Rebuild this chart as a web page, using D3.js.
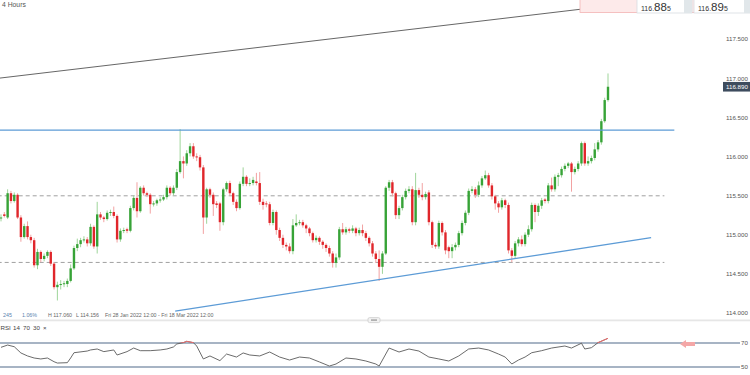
<!DOCTYPE html>
<html><head><meta charset="utf-8">
<script src="https://cdn.jsdelivr.net/npm/d3@7"></script>
<style>
body{margin:0;background:#fff;overflow:hidden}
svg{display:block;font-family:"Liberation Sans",Arial,sans-serif}
</style>
</head><body>
<svg id="c" width="750" height="375"></svg>
<script>
// ---- DATA (4-hour candles: [open, high, low, close]) ----
const candles = [
[115.21,115.26,115.17,115.22],[115.26,115.29,115.22,115.24],[115.22,115.58,115.20,115.53],[115.53,115.56,115.40,115.43],
[115.43,115.54,115.41,115.51],[115.51,115.53,115.20,115.22],[115.22,115.25,114.91,114.97],[114.97,115.14,114.95,115.11],
[115.11,115.17,114.94,114.97],[114.97,115.00,114.89,114.93],[114.93,114.96,114.58,114.61],[114.61,114.82,114.56,114.78],
[114.78,114.80,114.65,114.69],[114.69,114.76,114.66,114.73],[114.73,114.80,114.70,114.78],[114.78,114.80,114.60,114.63],
[114.63,114.65,114.30,114.33],[114.33,114.40,114.16,114.36],[114.36,114.42,114.30,114.37],[114.37,114.41,114.33,114.38],
[114.37,114.44,114.33,114.41],[114.41,114.62,114.39,114.57],[114.57,114.86,114.55,114.83],[114.83,114.95,114.79,114.88],
[114.88,114.96,114.84,114.93],[114.93,114.98,114.90,114.94],[114.94,114.97,114.85,114.89],[114.89,115.14,114.86,115.10],
[115.10,115.12,114.82,114.85],[114.85,115.42,114.76,115.26],[115.26,115.29,115.19,115.22],[115.22,115.24,115.16,115.20],
[115.20,115.31,115.18,115.28],[115.28,115.32,115.24,115.29],[115.29,115.36,115.21,115.24],[115.24,115.26,114.90,114.94],
[114.94,115.08,114.91,115.05],[115.05,115.09,115.02,115.06],[115.07,115.09,115.02,115.05],[115.05,115.37,115.03,115.34],
[115.34,115.50,115.31,115.47],[115.47,115.67,115.22,115.30],[115.30,115.62,115.28,115.60],[115.60,115.63,115.50,115.53],
[115.53,115.55,115.48,115.51],[115.51,115.53,115.27,115.39],[115.39,115.43,115.36,115.40],[115.40,115.46,115.37,115.44],
[115.44,115.48,115.41,115.45],[115.45,115.51,115.43,115.48],[115.48,115.63,115.45,115.60],[115.60,115.62,115.50,115.53],
[115.53,115.63,115.50,115.60],[115.60,115.84,115.57,115.80],[115.80,116.35,115.78,115.94],[115.94,116.00,115.72,115.91],
[115.91,116.08,115.88,116.04],[116.04,116.17,116.00,116.13],[116.13,116.17,115.97,116.00],[116.00,116.04,115.94,115.99],
[115.99,116.02,115.82,115.86],[115.86,115.89,115.01,115.22],[115.22,115.60,115.14,115.58],[115.58,115.60,115.47,115.51],
[115.51,115.54,115.24,115.39],[115.40,115.43,115.34,115.38],[115.40,115.42,115.05,115.16],[115.16,115.60,115.12,115.58],
[115.58,115.68,115.55,115.66],[115.66,115.69,115.50,115.53],[115.53,115.55,115.38,115.42],[115.42,115.45,115.30,115.34],
[115.34,115.68,115.32,115.65],[115.65,115.86,115.62,115.74],[115.74,115.76,115.62,115.65],[115.65,115.72,115.62,115.66],
[115.66,115.74,115.63,115.70],[115.68,115.79,115.63,115.66],[115.66,115.80,115.38,115.42],[115.42,115.46,115.32,115.38],
[115.40,115.43,115.35,115.39],[115.39,115.42,115.12,115.15],[115.15,115.32,115.12,115.29],[115.29,115.31,115.00,115.06],
[115.06,115.09,114.92,114.96],[114.96,115.00,114.83,114.87],[114.87,114.90,114.80,114.85],[114.85,114.89,114.76,114.79],
[114.79,115.20,114.75,115.12],[115.12,115.26,115.10,115.15],[115.15,115.19,115.12,115.16],[115.16,115.19,115.09,115.12],
[115.12,115.14,115.02,115.08],[115.08,115.10,114.98,115.02],[115.02,115.04,114.90,114.93],[114.93,114.99,114.90,114.96],
[114.96,114.98,114.87,114.91],[114.91,114.93,114.82,114.87],[114.87,114.89,114.78,114.83],[114.83,114.86,114.72,114.76],
[114.76,114.79,114.58,114.64],[114.64,114.76,114.58,114.71],[114.71,115.10,114.68,115.07],[115.07,115.15,115.00,115.03],
[115.03,115.10,115.00,115.07],[115.07,115.09,115.02,115.05],[115.05,115.12,115.02,115.08],[115.08,115.10,114.98,115.02],
[115.02,115.09,114.99,115.06],[115.06,115.13,114.98,115.02],[115.02,115.05,114.92,114.96],[114.96,114.98,114.85,114.89],
[114.89,114.92,114.72,114.76],[114.76,114.79,114.64,114.69],[114.69,114.80,114.41,114.59],[114.59,114.79,114.50,114.76],
[114.76,115.62,114.74,115.60],[115.60,115.70,115.56,115.67],[115.67,115.70,115.49,115.53],[115.53,115.55,115.20,115.25],
[115.25,115.37,115.20,115.34],[115.34,115.51,115.31,115.48],[115.48,115.59,115.45,115.56],[115.56,115.62,115.53,115.58],
[115.58,115.62,115.12,115.16],[115.16,115.79,115.12,115.57],[115.57,115.60,115.47,115.51],[115.51,115.66,115.44,115.48],
[115.48,115.55,115.45,115.52],[115.54,115.57,115.12,115.16],[115.16,115.18,114.83,114.87],[114.87,114.90,114.82,114.85],
[114.85,115.18,114.82,115.15],[115.15,115.17,114.99,115.03],[115.03,115.06,114.75,114.80],[114.84,114.86,114.70,114.79],
[114.79,114.88,114.70,114.84],[114.84,114.90,114.80,114.87],[114.87,115.05,114.84,115.02],[115.02,115.18,114.99,115.15],
[115.15,115.31,115.12,115.28],[115.28,115.59,115.25,115.56],[115.56,115.62,115.53,115.58],[115.58,115.61,115.47,115.51],
[115.51,115.68,115.48,115.63],[115.63,115.75,115.60,115.72],[115.72,115.82,115.70,115.76],[115.76,115.79,115.60,115.63],
[115.63,115.66,115.45,115.49],[115.49,115.51,115.32,115.40],[115.40,115.43,115.28,115.35],[115.35,115.47,115.32,115.44],
[115.44,115.46,115.34,115.38],[115.38,115.41,114.76,114.80],[114.80,114.83,114.65,114.73],[114.73,114.92,114.70,114.89],
[114.89,114.97,114.85,114.94],[114.94,114.99,114.85,114.88],[114.88,115.03,114.85,115.00],[115.00,115.12,114.97,115.07],
[115.07,115.41,115.04,115.38],[115.38,115.40,115.16,115.29],[115.29,115.40,115.24,115.37],[115.37,115.47,115.33,115.44],
[115.45,115.47,115.40,115.43],[115.43,115.66,115.40,115.63],[115.63,115.73,115.55,115.58],[115.58,115.77,115.55,115.74],
[115.74,115.79,115.62,115.76],[115.76,115.87,115.73,115.84],[115.84,115.91,115.81,115.88],[115.88,115.93,115.85,115.91],
[115.91,115.93,115.55,115.80],[115.80,115.87,115.77,115.84],[115.84,115.94,115.81,115.91],[115.91,116.19,115.88,116.17],
[116.17,116.19,115.88,115.91],[115.91,116.00,115.88,115.94],[115.94,116.01,115.91,115.98],[115.98,116.17,115.95,116.09],
[116.09,116.21,116.06,116.18],[116.18,116.48,116.15,116.45],[116.45,116.75,116.43,116.72],[116.72,117.06,116.70,116.89]
];
const priceTicks = [117.5, 117.0, 116.5, 116.0, 115.5, 115.0, 114.5, 114.0];
const lastPrice = 116.890;
const sellQuote = ["116.", "88", "5"];
const buyQuote = ["116.", "89", "5"];
// RSI(14) readings: [candle index, value]
const rsi = [
[0,66.4],[2,68.3],[4,66.9],[6,61.7],[8,59.2],[10,57.5],[12,56.7],[14,57.5],[16,54.4],[17,53.3],[20,53.6],
[21,57.5],[22,61.9],[26,63.3],[27,64.2],[29,65.0],[31,62.8],[34,64.2],[35,60.0],[38,62.8],[40,65.8],[42,63.6],
[45,63.6],[48,64.2],[50,65.0],[52,66.7],[53,69.2],[55,70.3],[56,71.4],[58,70.3],[59,67.5],[61,56.7],[63,59.2],
[66,55.3],[68,60.8],[71,58.3],[73,61.7],[75,60.0],[78,59.2],[81,62.5],[84,58.3],[87,55.8],[90,58.3],[93,57.5],
[96,54.2],[99,50.8],[101,52.5],[104,57.5],[107,56.7],[110,55.0],[113,52.5],[114,50.8],[117,65.8],[120,62.5],
[123,65.0],[126,63.3],[129,58.3],[132,56.7],[135,55.0],[138,59.2],[141,65.0],[144,65.8],[147,64.2],[150,60.8],
[152,58.3],[154,52.5],[156,55.8],[158,58.3],[160,61.9],[163,63.6],[166,65.8],[170,67.5],[172,65.8],[175,69.8],
[176,65.0],[178,66.1],[180,70.3],[183,73.9]
];
const rsiLevels = [70, 50];
const rsiSettings = ["RSI", "14", "70", "30", "\u00d7"];
const resistance = {price: 116.336, from: -1, to: 203};
const dashedLevels = [{price: 115.497, from: -1, to: 200}, {price: 114.646, from: -1, to: 200}];
const risingTrend = [[52.5, 114.024], [196, 114.963]];
const longTrend = [[-0.5, 117.0], [197.8, 117.996]];
const infoItems = ["245", "1.06%", "H 117.060", "L 114.156", "Fri 28 Jan 2022 12:00 - Fri 18 Mar 2022 12:00"];

// ---- SCALES ----
const svg = d3.select("#c");
const x = d3.scaleLinear().domain([0, candles.length - 1]).range([1, 608]);
const y = d3.scaleLinear().domain([114.0, 117.5]).range([313, 39]);
const yr = d3.scaleLinear().domain([50, 70]).range([367, 343]);

const defs = svg.append("defs");
defs.append("clipPath").attr("id", "mainClip").append("rect").attr("x", 0).attr("y", 0).attr("width", 720).attr("height", 319);
defs.append("clipPath").attr("id", "rsiClip").append("rect").attr("x", 0).attr("y", 323).attr("width", 750).attr("height", 52);
defs.append("clipPath").attr("id", "obClip").append("rect").attr("x", 0).attr("y", 323).attr("width", 750).attr("height", 20);

svg.append("rect").attr("width", 750).attr("height", 375).attr("fill", "#fff");

const main = svg.append("g").attr("clip-path", "url(#mainClip)");

// long upper trend line
main.append("line")
  .attr("x1", x(longTrend[0][0])).attr("y1", y(longTrend[0][1]))
  .attr("x2", x(longTrend[1][0])).attr("y2", y(longTrend[1][1]))
  .attr("stroke", "#555").attr("stroke-width", 0.9);

// dashed support/resistance levels
main.selectAll("line.dash").data(dashedLevels).join("line")
  .attr("x1", d => x(d.from)).attr("x2", d => x(d.to))
  .attr("y1", d => y(d.price)).attr("y2", d => y(d.price))
  .attr("stroke", "#a0a0a0").attr("stroke-width", 1).attr("stroke-dasharray", "4,3");

// candles
const wicks = main.append("g");
wicks.selectAll("line").data(candles).join("line")
  .attr("x1", (d, i) => x(i)).attr("x2", (d, i) => x(i))
  .attr("y1", d => y(d[1])).attr("y2", d => y(d[2]))
  .attr("stroke", d => d[3] >= d[0] ? "#9fd59a" : "#f2a2a2").attr("stroke-width", 1);
const bodies = main.append("g");
bodies.selectAll("rect").data(candles).join("rect")
  .attr("x", (d, i) => x(i) - 1.2).attr("width", 2.4)
  .attr("y", d => y(Math.max(d[0], d[3])))
  .attr("height", d => Math.max(1, Math.abs(y(d[0]) - y(d[3]))))
  .attr("fill", d => d[3] >= d[0] ? "#37a337" : "#e0262b");

// horizontal resistance (blue)
main.append("line")
  .attr("x1", x(resistance.from)).attr("x2", x(resistance.to))
  .attr("y1", y(resistance.price)).attr("y2", y(resistance.price))
  .attr("stroke", "#5c9bd6").attr("stroke-width", 1.3);
// rising trend line (blue)
main.append("line")
  .attr("x1", x(risingTrend[0][0])).attr("y1", y(risingTrend[0][1]))
  .attr("x2", x(risingTrend[1][0])).attr("y2", y(risingTrend[1][1]))
  .attr("stroke", "#5c9bd6").attr("stroke-width", 1.3);

// right price axis
const axis = d3.axisRight(y).tickValues(priceTicks).tickFormat(d3.format(".3f")).tickSize(0).tickPadding(0);
const ag = svg.append("g").attr("transform", "translate(726,0)").call(axis);
ag.select(".domain").remove();
ag.selectAll("text").attr("fill", "#555").style("font-size", "6.2px").style("font-family", "Liberation Sans, Arial, sans-serif");

// last price label
svg.append("rect").attr("x", 723).attr("y", y(lastPrice) - 4.8).attr("width", 27).attr("height", 9.6).attr("fill", "#3e4c5e");
svg.append("text").attr("x", 726).attr("y", y(lastPrice)).attr("dy", "0.35em")
  .attr("fill", "#fff").style("font-size", "6.2px").text(d3.format(".3f")(lastPrice));

// top label
svg.append("text").attr("x", 2).attr("y", 6.5).attr("fill", "#555").style("font-size", "6.8px").text("4 Hours");

// quote boxes
svg.append("rect").attr("x", 580).attr("y", -2).attr("width", 172).attr("height", 14.5)
  .attr("fill", "#fdeaea").attr("stroke", "#f3b4b4").attr("stroke-width", 0.8);
function quoteBox(x0, w, parts) {
  const gq = svg.append("g");
  gq.append("rect").attr("x", x0).attr("y", -2).attr("width", w).attr("height", 15)
    .attr("fill", "#fff").attr("stroke", "#d8dde2").attr("stroke-width", 0.8);
  gq.append("rect").attr("x", x0 + w - 8).attr("y", -2).attr("width", 8).attr("height", 15).attr("fill", "#e1e7ea");
  const t = gq.append("text").attr("x", x0 + 4).attr("y", 11.2).attr("fill", "#333");
  t.append("tspan").style("font-size", "7px").text(parts[0]);
  t.append("tspan").style("font-size", "11.5px").text(parts[1]);
  t.append("tspan").style("font-size", "7px").text(parts[2]);
}
quoteBox(637, 55, sellQuote);
quoteBox(694, 58, buyQuote);

// info bar
const infoX = [3, 22, 48, 76, 105];
svg.selectAll("text.info").data(infoItems).join("text").attr("class", "info")
  .attr("x", (d, i) => infoX[i]).attr("y", 317)
  .attr("fill", (d, i) => i < 2 ? "#5a7fae" : "#666")
  .style("font-size", "5.3px").text(d => d);

// panel separator + scroll handle
svg.append("rect").attr("x", 0).attr("y", 319.5).attr("width", 750).attr("height", 1.8).attr("fill", "#e6e6e6");
svg.append("rect").attr("x", 368).attr("y", 317.6).attr("width", 12).attr("height", 5).attr("rx", 1.5)
  .attr("fill", "#f2f2f2").attr("stroke", "#c8c8c8").attr("stroke-width", 0.7);
svg.append("rect").attr("x", 371).attr("y", 319.3).attr("width", 6).attr("height", 1.6).attr("fill", "#aaa");

// RSI panel
const rp = svg.append("g").attr("clip-path", "url(#rsiClip)");
rp.selectAll("line.lvl").data(rsiLevels).join("line")
  .attr("x1", 0).attr("x2", 740).attr("y1", d => yr(d)).attr("y2", d => yr(d))
  .attr("stroke", "#8a9bb0").attr("stroke-width", 1.3);
svg.selectAll("text.lvl").data(rsiLevels).join("text").attr("class", "lvl")
  .attr("x", 741).attr("y", d => yr(d)).attr("dy", "0.35em")
  .attr("fill", "#555").style("font-size", "6.2px").text(d => d);
const rline = d3.line().x(d => x(d[0])).y(d => yr(d[1]));
rp.append("path").datum(rsi).attr("d", rline).attr("fill", "none").attr("stroke", "#5a5a5a").attr("stroke-width", 0.9);
svg.append("path").datum(rsi).attr("clip-path", "url(#obClip)").attr("d", rline)
  .attr("fill", "none").attr("stroke", "#ee6b6b").attr("stroke-width", 1);

// RSI settings label
const rsiX = [0.5, 13, 23, 33, 43];
svg.selectAll("text.rs").data(rsiSettings).join("text").attr("class", "rs")
  .attr("x", (d, i) => rsiX[i]).attr("y", 329.5).attr("fill", "#444")
  .style("font-size", "6.2px").text(d => d);

// pink arrow
const ay = yr(70) + 1;
svg.append("path")
  .attr("d", `M680,${ay} L686,${ay - 4} L686,${ay - 2} L695,${ay - 2} L695,${ay + 2} L686,${ay + 2} L686,${ay + 4} Z`)
  .attr("fill", "#f4a7a7");
</script>
</body></html>
